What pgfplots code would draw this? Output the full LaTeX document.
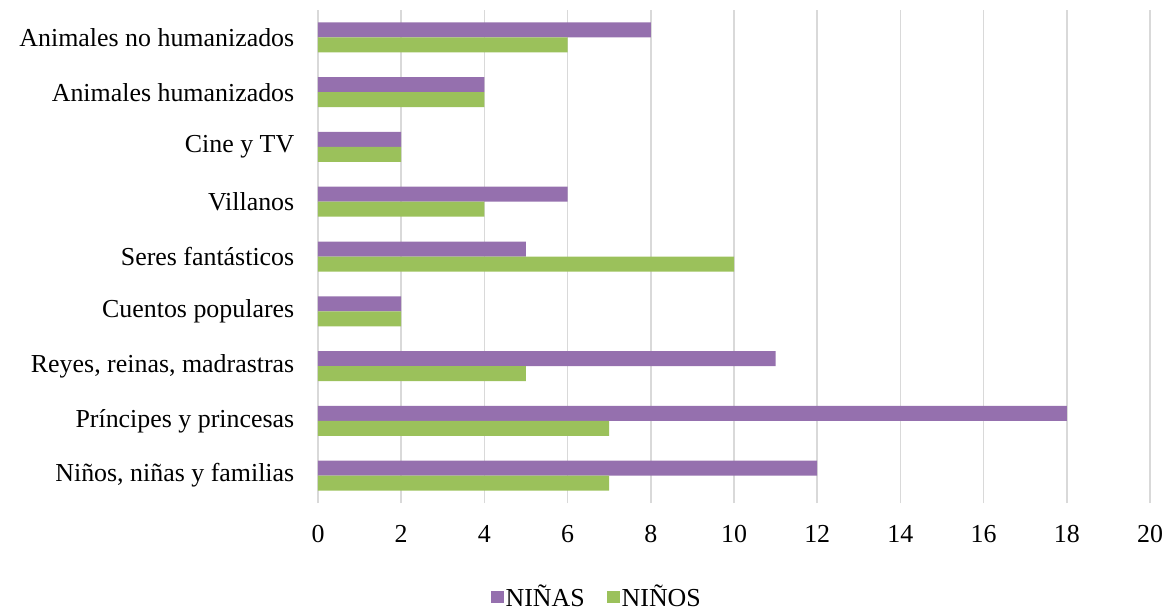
\documentclass[border=0pt]{standalone}
\usepackage{fontspec}
\setmainfont{Liberation Serif}
\usepackage{pgfplots}
\pgfplotsset{compat=1.18}
\definecolor{ninas}{HTML}{9570AE}
\definecolor{ninos}{HTML}{9BC15B}
\definecolor{gridgray}{HTML}{D9D9D9}
\begin{document}
\begin{tikzpicture}
\path[use as bounding box] (-318bp,-110bp) rectangle (849bp,503bp);
\begin{axis}[
  at={(0,0)}, anchor=south west,
  scale only axis, width=832bp, height=493bp,
  xbar, bar width=15bp,
  xmin=0, xmax=20, xtick={0,2,...,20},
  ymin=-0.5, ymax=8.5,
  ytick={0,...,8},
  yticklabels={{Niños, niñas y familias}, {Príncipes y princesas}, {Reyes, reinas, madrastras}, {Cuentos populares}, {Seres fantásticos}, {Villanos}, {Cine y TV}, {Animales humanizados}, {Animales no humanizados}},
  axis line style={draw=none},
  tick style={draw=none},
  xmajorgrids, grid style={gridgray, line width=1.5bp},
  /pgf/number format/assume math mode=true,
  ticklabel style={font=\fontsize{26}{30}\selectfont},
  xticklabel style={anchor=base, yshift=-39bp},
  yticklabel style={xshift=-16bp},
  legend style={at={(0.335,-0.19)}, anchor=center, draw=none, fill=none,
    legend columns=2, font=\fontsize{26}{30}\selectfont,
    inner sep=0pt,
    /tikz/every odd column/.append style={column sep=0bp},
    /tikz/every even column/.append style={column sep=20bp}},
  legend image code/.code={\fill[#1] (0bp,-6bp) rectangle (13bp,6bp);},
  legend cell align=left,
]
\addplot[draw=none, fill=ninas, bar shift=7.5bp] coordinates {
  (12,0) (18,1) (11,2) (2,3) (5,4) (6,5) (2,6) (4,7) (8,8)};
\addlegendentry{NIÑAS}
\addplot[draw=none, fill=ninos, bar shift=-7.5bp] coordinates {
  (7,0) (7,1) (5,2) (2,3) (10,4) (4,5) (2,6) (4,7) (6,8)};
\addlegendentry{NIÑOS}
\end{axis}
\end{tikzpicture}
\end{document}
